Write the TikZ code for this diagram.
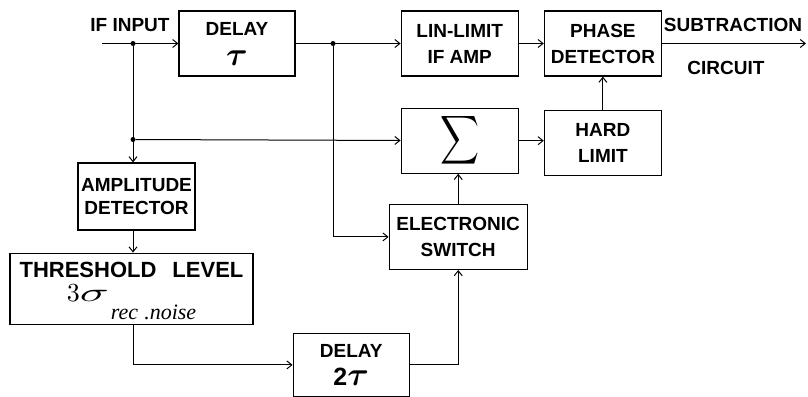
\documentclass[tikz,border=0pt]{standalone}
\usepackage[no-math]{fontspec}
\setmainfont{Liberation Sans}
\newfontfamily\seriffont{Liberation Serif}
\usepackage{amsmath}
\usepackage{bm}
\usepackage{graphicx}
\usetikzlibrary{arrows.meta,positioning}
\newcommand{\bigtau}{\scalebox{3.3}{\fontsize{10}{12}\selectfont$\bm{\tau}$}}
\tikzset{
  font=\fontsize{19}{26}\selectfont\bfseries,
  box/.style ={draw, align=center, inner sep=2pt, minimum width=117pt, minimum height=65pt, line width=1.2pt},
  arr/.style ={-{Straight Barb[length=5pt,width=8pt]}, line width=1pt},
  dot/.style ={circle, fill, inner sep=0pt, minimum size=5pt},
}
\begin{document}
\begin{tikzpicture}[x=1pt,y=1pt]
  \useasboundingbox (0,0) rectangle (808,-396);
  \node[box, minimum width=116pt]  (dly) at (237,-43.5) {DELAY\\[4pt]\bigtau\hspace{18pt}};
  \node[box, right=105pt of dly]   (lin) {LIN-LIMIT\\IF AMP};
  \node[box, right=25pt of lin]    (pd)  {PHASE\\DETECTOR};
  \node[box, below=31pt of lin]    (sig) {\scalebox{2.7}[3.4]{\fontsize{10}{12}\selectfont$\displaystyle\sum$}};
  \node[box, right=25pt of sig, yshift=-2pt] (hl) {HARD\\LIMIT};
  \node[box, minimum width=138pt, below=30pt of sig, xshift=-1.5pt] (sw) {ELECTRONIC\\SWITCH};
  \node[box, minimum height=67pt, font=\fontsize{19}{23}\selectfont\bfseries] (amp) at (136.5,-196.5) {AMPLITUDE\\DETECTOR};
  \node[box, minimum width=243pt, minimum height=71pt, below=22pt of amp, xshift=-5pt,
        font=\fontsize{22}{24}\selectfont\bfseries] (thr)
        {THRESHOLD\hspace{16pt}LEVEL\\
         \scalebox{2.6}{\fontsize{10}{12}\selectfont$3$}\scalebox{4.8}[2.6]{\fontsize{10}{12}\selectfont$\sigma$}\hspace{2pt}%
         \raisebox{-18pt}[0pt][14pt]{\fontsize{22}{22}\seriffont\mdseries\itshape rec\;.noise}};
  \node[box, minimum width=116pt, minimum height=63pt, below right=8pt and 39pt of thr] (dly2)
        {DELAY\\[2pt]{\fontsize{25}{25}\selectfont 2}\bigtau\hspace{10pt}};

  \coordinate (in)  at (102,-43.5);
  \coordinate (out) at (806,-43.5);
  \node[dot] (j1) at (133,-43.5) {};
  \node[dot] (j2) at (133,-139.5) {};
  \node[dot] (j3) at (333,-43.5) {};
  \node (inlbl) at (130,-25) {IF INPUT};
  \node (sub)   at (733,-25) {SUBTRACTION};
  \node (cir)   at (726,-68) {CIRCUIT};

  \draw[arr] (in)--(dly); \draw[arr] (dly)--(lin);
  \draw[arr] (lin)--(pd); \draw[arr] (pd)--(out);
  \draw[arr] (j1)--(amp.north -| j1); \draw[arr] (j2)--(sig);
  \draw[arr] (amp.south -| j1)--(thr.north -| j1);
  \draw[arr] (thr.south -| j1) |- (dly2);
  \draw[arr] (j3) |- (sw);
  \draw[arr] (dly2) -| (sw);
  \draw[arr] (sw.north)--(sw.north |- sig.south);
  \draw[arr] (sig.east)--(sig.east -| hl.west);
  \draw[arr] (hl)--(pd);
\end{tikzpicture}
\end{document}
